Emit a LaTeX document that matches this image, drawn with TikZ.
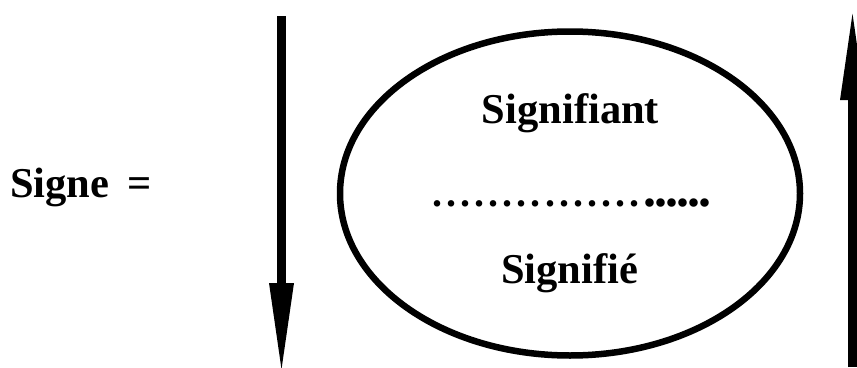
\documentclass[tikz,border=0pt]{standalone}
\usepackage{fontspec}
\setmainfont{Liberation Serif}
\usetikzlibrary{arrows.meta}
\newcommand{\sdot}{\makebox[14.1pt][l]{.}}
\newcommand{\hdot}{\makebox[10.9pt][l]{\fontsize{52}{60}\selectfont.}}
\begin{document}
\begin{tikzpicture}[x=1pt,y=-1pt,
  lbl/.style={font=\fontsize{42.5}{50}\selectfont\bfseries, inner sep=0pt, anchor=base},
  bigarrow/.style={line width=9.5pt, -{Triangle[length=94pt,width=22pt]}}]
\useasboundingbox (0,0) rectangle (857,367);
\coordinate (la) at (281.5,16);
\coordinate (lb) at (281.5,377);
\coordinate (ra) at (852.5,367);
\coordinate (rb) at (852.5,6);
\draw[bigarrow] (la) -- (lb);
\draw[bigarrow] (ra) -- (rb);
\draw[line width=6.5pt] (570,193.5) ellipse [x radius=230, y radius=162];
\node[lbl, anchor=base west] (signe) at (10,197) {Signe\hspace{18pt}=};
\node[lbl] (sa) at (570.5,123) {Signifiant};
\node[lbl] (se) at (569.5,283) {Signifié};
\node[font=\fontsize{40}{48}\selectfont\bfseries, inner sep=0pt, anchor=base west] (dots) at (432,206) {\sdot\sdot\sdot\sdot\sdot\sdot\sdot\sdot\sdot\sdot\sdot\sdot\sdot\sdot\sdot\hdot\hdot\hdot\hdot\hdot\hdot};
\end{tikzpicture}
\end{document}
